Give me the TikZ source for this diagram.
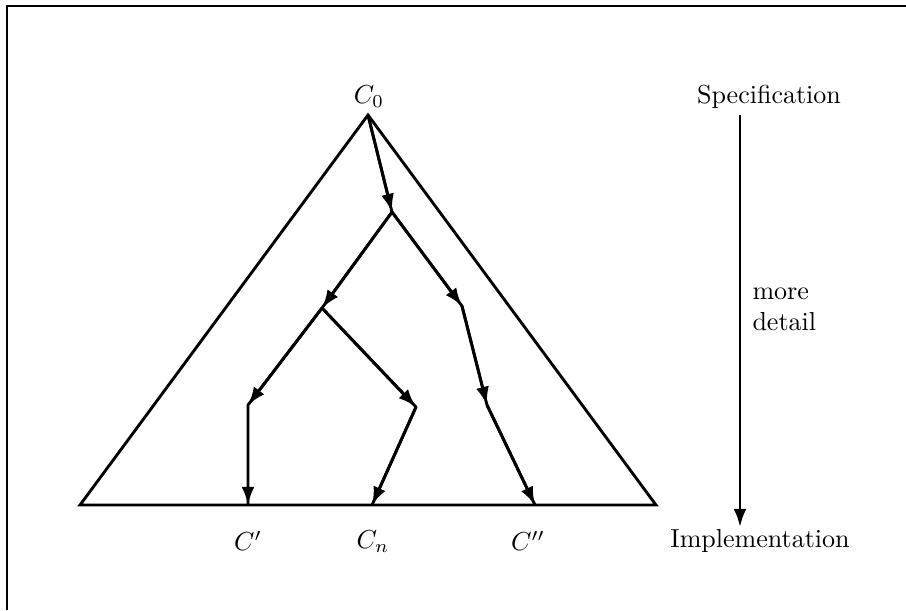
\documentclass[tikz,border=0pt]{standalone}
\usetikzlibrary{arrows.meta}
\begin{document}
\begin{tikzpicture}[x=0.0135cm,y=-0.0135cm,
  edge/.style={line width=1.1pt,-{Latex[length=7pt,width=5pt]}},
  branch/.style={line width=1.1pt,line join=round},
  tri/.style={line width=1.1pt,line join=miter},
  lbl/.style={inner sep=0pt}]
\useasboundingbox (0,0) rectangle (906,610);
\draw[line width=0.8pt] (906,6) -- (7,6) -- (7,610);
% triangle
\coordinate (apex) at (368,115);
\coordinate (bl) at (80,505);
\coordinate (br) at (656,505);
\draw[tri] (bl) -- (apex) -- (br) -- cycle;
% inner nodes
\coordinate (n1) at (392,212);
\coordinate (n2) at (322,308);
\coordinate (n3) at (462,306);
\coordinate (n4) at (248,405);
\coordinate (n5) at (416,407);
\coordinate (n6) at (487,405);
\coordinate (c1) at (248,505);
\coordinate (c2) at (372,505);
\coordinate (c3) at (535,505);
% continuous branches
\draw[branch] (apex) -- (n1) -- (n2) -- (n4) -- (c1);
\draw[branch] (n1) -- (n3) -- (n6) -- (c3);
\draw[branch] (n2) -- (n5) -- (c2);
% arrow on each segment
\draw[edge] (apex) -- (n1);
\draw[edge] (n1) -- (n2);
\draw[edge] (n1) -- (n3);
\draw[edge] (n2) -- (n4);
\draw[edge] (n2) -- (n5);
\draw[edge] (n3) -- (n6);
\draw[edge] (n4) -- (c1);
\draw[edge] (n5) -- (c2);
\draw[edge] (n6) -- (c3);
% labels
\node[lbl] (C0) at (369,97) {$C_0$};
\node[lbl] (Cp) at (248,541) {$C'$};
\node[lbl] (Cn) at (373,542) {$C_n$};
\node[lbl] (Cpp) at (528,541) {$C''$};
\node[lbl] (spec) at (769,97) {Specification};
\node[lbl] (impl) at (760,541) {Implementation};
\node[lbl,anchor=west,align=left] (more) at (752,309) {more\\detail};
\coordinate (as) at (740,115);
\coordinate (ae) at (740,527);
\draw[edge] (as) -- (ae);
\end{tikzpicture}
\end{document}
